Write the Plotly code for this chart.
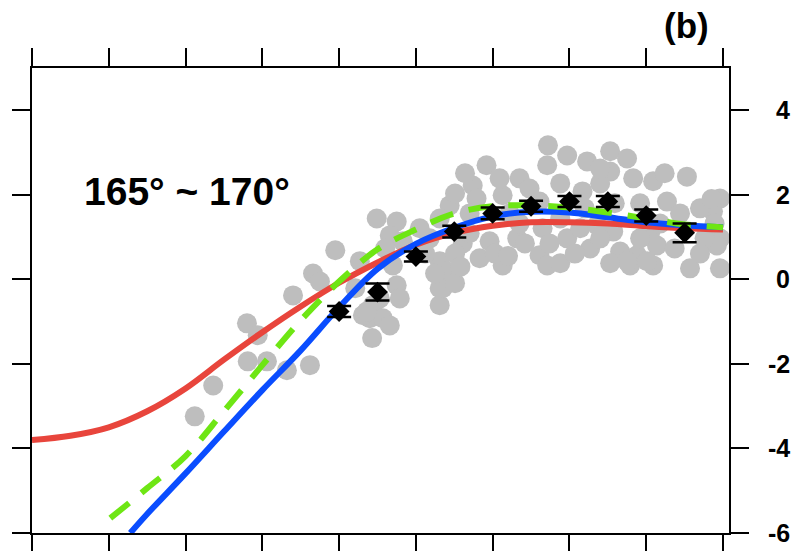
import plotly.graph_objects as go

# Individual observations (grey cloud)
obs_x = [2.12, 2.36, 2.80, 2.94, 2.81, 3.06, 3.32, 3.62, 3.40, 3.66, 3.75, 3.95, 4.27, 4.49,
         4.40, 4.43, 4.75, 4.66, 5.92, 5.74, 5.79, 6.13, 5.44, 5.31, 5.18, 5.31, 5.40, 5.31,
         5.31, 6.13, 4.70, 4.75, 4.44, 4.57, 4.31, 4.83, 5.96, 6.32, 6.72, 6.97, 6.71, 7.23,
         7.53, 7.75, 7.53, 7.83, 8.09, 8.53, 8.96, 8.87, 7.17, 6.61, 6.65, 6.97, 6.61, 6.71,
         7.57, 7.66, 7.88, 7.79, 8.09, 8.14, 8.57, 8.96, 8.96, 7.14, 7.36, 8.27, 4.79, 5.35,
         7.75, 8.01, 8.92, 4.53, 4.36, 4.66, 5.61, 5.83, 6.35, 6.88, 7.27, 8.05, 8.37, 8.70,
         5.70, 6.88, 7.40, 7.92, 6.35, 5.51, 5.05, 6.09, 8.76, 6.88, 7.53,
         5.51, 5.70, 6.03, 6.22, 6.42, 6.74, 7.07, 7.20, 7.40, 7.59, 7.92, 8.18, 8.44, 8.70,
         8.89, 6.48, 7.40, 8.24, 5.64, 5.12, 5.25, 5.51, 4.21, 4.60, 5.58, 6.20, 8.85]
obs_y = [-3.24, -2.51, -1.04, -1.32, -1.94, -1.94, -2.15, -2.03, -0.38, 0.14, -0.05, 0.69, 0.43, 1.44,
         -0.92, -1.39, 1.37, 1.04, 2.70, 2.22, 1.91, 1.99, 1.75, 1.44, 0.97, 0.43, 0.19, -0.21,
         -0.61, 0.33, 0.33, -0.14, -0.61, -0.92, -0.85, 0.90, 0.90, 0.97, 3.17, 2.93, 2.70, 2.79,
         3.03, 2.86, 2.55, 2.39, 2.32, 2.43, 1.91, 1.61, 2.08, 1.84, 1.21, 0.97, 0.57, 0.33,
         1.13, 0.66, 0.57, 0.33, 0.33, 0.80, 0.26, 0.97, 0.26, 1.21, 1.28, 1.84, -0.45, -0.21,
         0.43, 0.43, 0.80, -0.45, -0.76, -1.09, 0.85, 0.50, 1.32, 1.44, 0.73, 1.09, 0.73, 1.68,
         1.56, 2.27, 2.27, 1.80, 2.39, 2.03, 1.21, 2.39, 0.97, 0.38, 0.38,
         0.61, 1.09, 0.61, 1.56, 0.85, 0.85, 0.61, 1.68, 0.97, 1.80, 0.97, 1.32, 1.56, 0.61,
         1.32, 2.15, 2.62, 2.51, 2.51, 0.61, 0.14, -0.09, -0.21, 0.73, 0.30, 0.55, 1.90]

# Bin means with standard errors
mean_x = [4.0, 4.5, 5.0, 5.5, 6.0, 6.5, 7.0, 7.5, 8.0, 8.5]
mean_y = [-0.76, -0.30, 0.54, 1.13, 1.56, 1.73, 1.84, 1.84, 1.51, 1.10]
mean_err = [0.13, 0.20, 0.12, 0.14, 0.14, 0.13, 0.13, 0.13, 0.14, 0.22]

# Fitted curves
red_x = [0.0, 0.5, 1.0, 1.5, 2.0, 2.5, 3.0, 3.5, 4.0, 4.5, 5.0, 5.5, 6.0, 6.5, 7.0, 7.5, 8.0, 8.5, 9.0]
red_y = [-3.80, -3.70, -3.50, -3.12, -2.58, -1.90, -1.25, -0.64, -0.08, 0.40, 0.82, 1.10, 1.27,
         1.35, 1.35, 1.32, 1.26, 1.21, 1.18]

blue_x = [1.28, 1.5, 2.0, 2.5, 3.0, 3.5, 4.0, 4.5, 5.0, 5.5, 6.0, 6.5, 7.0, 7.5, 8.0, 8.5, 9.0]
blue_y = [-6.0, -5.55, -4.59, -3.60, -2.62, -1.68, -0.66, 0.25, 0.84, 1.22, 1.49, 1.60, 1.58,
          1.47, 1.35, 1.28, 1.23]

green_x = [1.02, 1.5, 2.0, 2.5, 3.0, 3.5, 4.0, 4.5, 5.0, 5.5, 6.0, 6.5, 7.0, 7.5, 8.0, 8.5, 9.0]
green_y = [-5.65, -4.94, -4.18, -3.12, -2.03, -0.97, -0.05, 0.71, 1.18, 1.56, 1.73, 1.75, 1.70,
           1.58, 1.44, 1.30, 1.23]

x_ticks = list(range(10))
y_ticks = [-6, -4, -2, 0, 2, 4]
y_tick_text = ["-6", "-4", "-2", "0", "2", "4"]

FONT = "Liberation Sans, Arial, sans-serif"

fig = go.Figure()

fig.add_trace(go.Scatter(x=obs_x, y=obs_y, mode="markers",
                         marker=dict(size=20, color="#bebebe", line=dict(width=0)),
                         showlegend=False))
fig.add_trace(go.Scatter(x=red_x, y=red_y, mode="lines",
                         line=dict(color="#e8453c", width=6, shape="spline", smoothing=1),
                         showlegend=False))
fig.add_trace(go.Scatter(x=blue_x, y=blue_y, mode="lines",
                         line=dict(color="#0a4dff", width=6, shape="spline", smoothing=1),
                         showlegend=False))
fig.add_trace(go.Scatter(x=green_x, y=green_y, mode="lines",
                         line=dict(color="#6ee614", width=6, shape="spline", smoothing=1,
                                   dash="24px,16px"),
                         showlegend=False))
fig.add_trace(go.Scatter(x=mean_x, y=mean_y, mode="markers",
                         marker=dict(symbol="diamond", size=16, color="black"),
                         error_y=dict(type="data", array=mean_err, visible=True,
                                      color="black", thickness=2.5, width=12),
                         showlegend=False))

# Right-hand tick labels, right-aligned
for v, t in zip(y_ticks, y_tick_text):
    fig.add_annotation(x=1.091, xref="paper", y=v, yref="y", text=t, showarrow=False,
                       xanchor="right", yanchor="middle",
                       font=dict(family=FONT, size=25, color="black", weight="bold"))

fig.add_annotation(x=2.02, y=2.08, xref="x", yref="y", text="165° ~ 170°", showarrow=False,
                   xanchor="center", yanchor="middle",
                   font=dict(family=FONT, size=39, color="black", weight="bold"))
fig.add_annotation(x=(686 - 32) / 697, xref="paper", y=1 + (68 - 26) / 465, yref="paper",
                   text="(b)", showarrow=False, xanchor="center", yanchor="middle",
                   font=dict(family=FONT, size=35, color="black", weight="bold"))

fig.update_layout(
    width=798, height=551,
    margin=dict(l=32, r=69, t=68, b=18, autoexpand=False),
    paper_bgcolor="white", plot_bgcolor="white",
    xaxis=dict(range=[0, 9.078], tickvals=x_ticks, showticklabels=False,
               ticks="outside", ticklen=18, tickwidth=2, tickcolor="black",
               showline=True, linewidth=2, linecolor="black", mirror="ticks",
               showgrid=False, zeroline=False),
    yaxis=dict(range=[-6, 5], tickvals=y_ticks, showticklabels=False,
               ticks="outside", ticklen=18, tickwidth=2, tickcolor="black",
               showline=True, linewidth=2, linecolor="black", mirror="ticks",
               showgrid=False, zeroline=False),
)

fig.write_html("out.html")
